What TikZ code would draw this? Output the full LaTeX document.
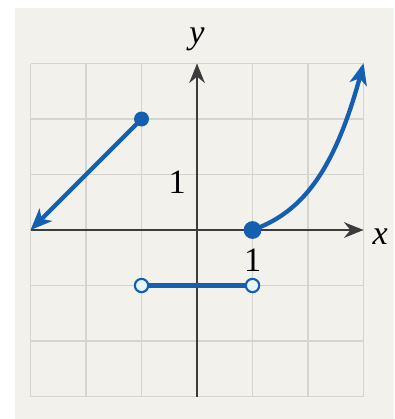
\documentclass[tikz,border=0pt]{standalone}
\usepackage{fontspec}
\setmainfont{Liberation Serif}
\usetikzlibrary{arrows.meta}
\definecolor{bg}{RGB}{243,241,236}
\definecolor{gridc}{RGB}{214,212,206}
\definecolor{axisc}{RGB}{60,60,60}
\definecolor{graphblue}{RGB}{20,95,175}
\definecolor{holefill}{RGB}{232,246,250}
\tikzset{
  gridline/.style={gridc, line width=0.8pt},
  axisline/.style={axisc, line width=1.1pt, -{Stealth[length=10pt,width=8pt]}},
  graphline/.style={graphblue, line width=2.2pt, line cap=round},
  graphend/.style={-{Stealth[length=11pt,width=9pt,inset=3pt]}},
  closeddot/.style={circle, fill=graphblue, inner sep=0pt, minimum size=#1},
  opendot/.style={circle, draw=graphblue, line width=1.1pt, fill=holefill, inner sep=0pt, minimum size=0.24cm},
  lbl/.style={font=\fontsize{17.5}{20}\selectfont, inner sep=0pt}
}
\begin{document}
\begin{tikzpicture}
\useasboundingbox (-3.55,-3.405) rectangle (3.55,4.144);
\fill[bg] (-3.28,-3.405) rectangle (3.55,4.0);
% grid
\foreach \i in {-3,...,3} {
  \draw[gridline] (\i,-3) -- (\i,3);
  \draw[gridline] (-3,\i) -- (3,\i);
}
% axes
\coordinate (xs) at (-3,0);
\coordinate (xe) at (3,0);
\coordinate (ys) at (0,-3);
\coordinate (ye) at (0,3);
\draw[axisline] (xs) -- (xe);
\draw[axisline] (ys) -- (ye);
\node[lbl] (xl) at (3.3,-0.12) {\itshape x};
\node[lbl] (yl) at (0,3.43) {\itshape y};
\node[lbl] (one1) at (1,-0.54) {1};
\node[lbl] (one2) at (-0.36,0.86) {1};
% left ray
\coordinate (la) at (-3,0);
\node[closeddot=0.27cm] (p1) at (-1,2) {};
\draw[graphline, graphend] (p1.center) -- (la);
% middle segment
\node[opendot] (h1) at (-1,-1) {};
\node[opendot] (h2) at (1,-1) {};
\draw[graphline] (h1) -- (h2);
% right curve
\draw[graphline, graphend] plot[domain=1:3, samples=60, smooth] (\x,{0.3*(exp(1.2*(\x-1))-1)});
\node[closeddot=0.32cm] (p2) at (1,0) {};
\end{tikzpicture}
\end{document}
